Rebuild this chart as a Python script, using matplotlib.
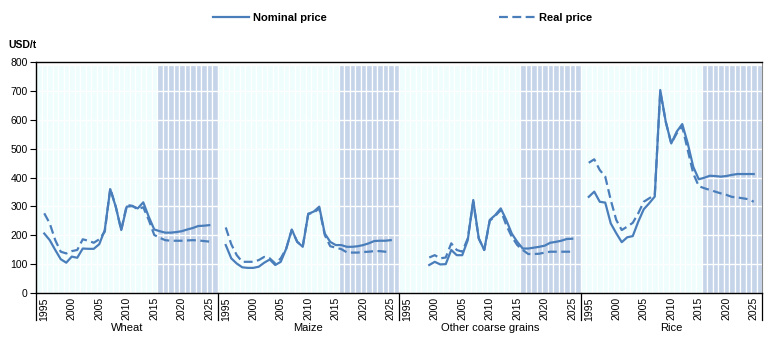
import numpy as np
import matplotlib.pyplot as plt
from matplotlib.lines import Line2D

plt.rcParams['font.family'] = ['Liberation Sans', 'DejaVu Sans']

years = list(range(1995, 2026))
panels = ['Wheat', 'Maize', 'Other coarse grains', 'Rice']
first_projection_year = 2016
nan = np.nan

nominal = {
    'Wheat': [206, 183, 149, 117, 105, 126, 122, 154, 153, 153, 169, 218, 359, 299, 218, 299,
              301, 293, 314, 264, 220, 214, 209, 209, 211, 214, 220, 225, 232, 233, 235],
    'Maize': [166, 120, 102, 89, 87, 87, 91, 105, 116, 97, 108, 154, 220, 177, 160, 274,
              282, 299, 206, 177, 166, 166, 160, 160, 162, 166, 172, 180, 181, 181, 183],
    'Other coarse grains': [nan, nan, nan, nan, 97, 108, 99, 100, 149, 131, 131, 183, 322, 189, 149, 253,
                            270, 293, 253, 206, 177, 154, 154, 157, 160, 164, 174, 177, 181, 187, 188],
    'Rice': [333, 351, 316, 313, 241, 207, 176, 193, 197, 247, 290, 311, 334, 703, 593, 518,
             559, 585, 518, 437, 394, 399, 406, 405, 403, 405, 409, 412, 412, 412, 412],
}
real = {
    'Wheat': [276, 241, 183, 143, 137, 145, 149, 186, 181, 174, 186, 212, 363, 299, 218, 305,
              302, 290, 297, 253, 201, 191, 183, 181, 181, 181, 182, 183, 182, 180, 178],
    'Maize': [227, 169, 131, 108, 108, 108, 114, 125, 120, 102, 120, 154, 218, 177, 162, 274,
              278, 293, 201, 162, 157, 152, 141, 140, 140, 142, 143, 145, 145, 143, 142],
    'Other coarse grains': [nan, nan, nan, nan, 123, 131, 120, 123, 172, 149, 143, 189, 316, 189, 149, 250,
                            267, 287, 235, 195, 166, 149, 135, 135, 136, 140, 143, 143, 143, 143, 143],
    'Rice': [451, 463, 426, 403, 322, 253, 218, 230, 243, 276, 316, 328, 339, 697, 593, 518,
             553, 576, 495, 414, 370, 363, 357, 351, 345, 340, 333, 331, 328, 325, 316],
}

line_color = '#4a7ebb'
hist_bg = '#f0fdfd'
proj_bg = '#c5d4e9'
slots = len(years) + 2  # one empty slot on each side of a panel

fig = plt.figure(figsize=(7.75, 3.6), dpi=100)
ax = fig.add_axes([36 / 775, 1 - 293 / 360, 726 / 775, 231 / 360])

# background columns: light for history, blue for projections
for k, name in enumerate(panels):
    x0 = k * slots
    bg_x = np.arange(x0, x0 + slots)
    bg_years = [years[0] - 1] + years + [years[-1] + 1]
    colors = [proj_bg if y >= first_projection_year else hist_bg for y in bg_years]
    ax.bar(bg_x, 790, width=1.0, color=colors, edgecolor='white', linewidth=0.9, zorder=1)

for v in range(100, 800, 100):
    ax.axhline(v, color='white', lw=1.0, zorder=2)

for k, name in enumerate(panels):
    x = np.arange(len(years)) + k * slots + 1
    ax.plot(x, nominal[name], color=line_color, lw=1.6, zorder=3)
    ax.plot(x, real[name], color=line_color, lw=1.6, dashes=(4, 2), zorder=3)

ax.set_xlim(-0.5, 4 * slots - 0.5)
ax.set_ylim(0, 800)
ax.set_yticks(range(0, 801, 100))
ax.tick_params(axis='y', direction='out', length=4, width=0.8, labelsize=7.5, pad=2)

tick_pos, tick_lab = [], []
for k in range(len(panels)):
    for i, y in enumerate(years):
        if y % 5 == 0:
            tick_pos.append(k * slots + 1 + i)
            tick_lab.append(str(y))
ax.set_xticks(tick_pos)
ax.set_xticklabels(tick_lab, rotation=90, fontsize=7.5)
ax.tick_params(axis='x', length=0, pad=3)

for side in ['left', 'bottom', 'top']:
    ax.spines[side].set_color('black')
    ax.spines[side].set_linewidth(1.0)
ax.spines['right'].set_color('#888888')

# panel separators below the axis and category labels
trans = ax.get_xaxis_transform()
for k in range(len(panels) + 1):
    xb = k * slots - 0.5
    ax.plot([xb, xb], [0, -0.118], color='black', lw=0.9, transform=trans, clip_on=False)
for k, name in enumerate(panels):
    ax.text(k * slots + (slots - 1) / 2, -0.152, name, transform=trans,
            ha='center', va='center', fontsize=8)

fig.text(8 / 775, 1 - 45 / 360, 'USD/t', fontsize=7.5, fontweight='bold', va='center')

handles = [Line2D([], [], color=line_color, lw=1.6),
           Line2D([], [], color=line_color, lw=1.6, dashes=(4, 2))]
fig.legend(handles, ['Nominal price', 'Real price'], loc='center', bbox_to_anchor=(0.52, 1 - 18 / 360),
           ncol=2, frameon=False, fontsize=8, handlelength=3.2, handletextpad=0.4, columnspacing=15.5,
           prop={'weight': 'bold', 'size': 8})

fig.savefig('out.png', dpi=100)
